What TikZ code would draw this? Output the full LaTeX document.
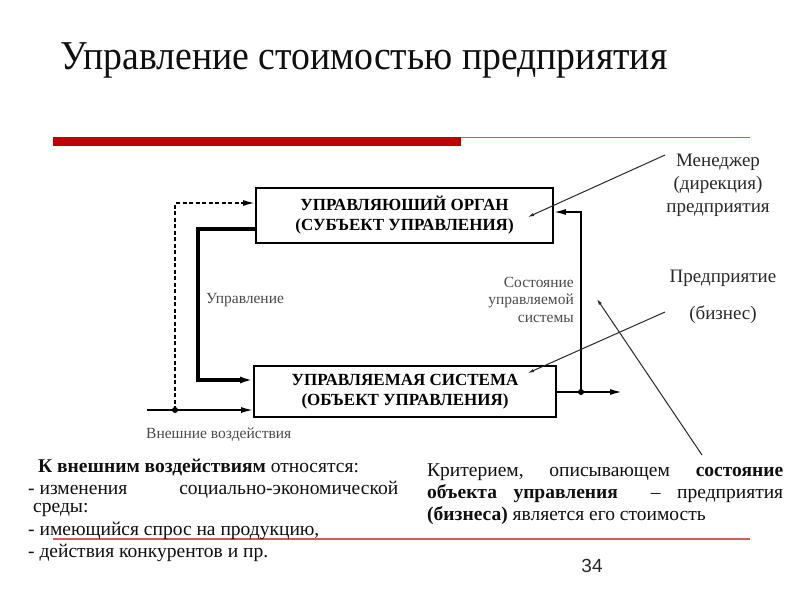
\documentclass[tikz,border=0pt]{standalone}
\usepackage{fontspec}
\setmainfont{Liberation Serif}
\newfontfamily\pagenumfont{Liberation Sans}
\newfontfamily\titlefont[FakeStretch=0.92]{Liberation Serif}
\usetikzlibrary{arrows.meta,calc}
\definecolor{barred}{RGB}{192,0,0}
\definecolor{thinred}{RGB}{205,95,95}
\definecolor{labelgray}{RGB}{75,75,75}
\definecolor{notegray}{RGB}{40,40,40}
\definecolor{textblack}{RGB}{15,15,15}
\begin{document}
\begin{tikzpicture}[x=1pt,y=-1pt,
  box/.style={draw=black,line width=1.7pt,inner sep=0pt,align=center,
    font=\bfseries\fontsize{17}{20}\selectfont},
  lbl/.style={text=labelgray,inner sep=0pt,font=\fontsize{15.5}{17.5}\selectfont},
  note/.style={text=notegray,inner sep=0pt,align=center,font=\fontsize{19}{23}\selectfont},
  body/.style={text=textblack,inner sep=0pt,anchor=base west,font=\fontsize{19.5}{22}\selectfont},
  flow/.style={line width=1.7pt,-{Latex[length=12pt,width=6pt]}},
  thickflow/.style={line width=3.6pt,-{Latex[length=13pt,width=7pt]}},
  dashflow/.style={line width=1.8pt,dash pattern=on 4pt off 2.5pt,-{Latex[length=12pt,width=6pt]}},
  notearrow/.style={draw=notegray,line width=1pt,-{Latex[length=6pt,width=3.5pt]}},
  dotmark/.style={fill=black}
]
\useasboundingbox (0,0) rectangle (800,600);
\fill[white] (0,0) rectangle (800,600);

% title and decorative lines
\node[anchor=base west,inner sep=0pt,text=textblack,font=\titlefont\fontsize{41}{46}\selectfont] (title) at (60,69.3) {Управление стоимостью предприятия};
\fill[barred] (53,136.7) rectangle (461,146);
\coordinate (bar1) at (461,137.4);
\coordinate (bar2) at (750,137.4);
\draw[thinred,line width=1.1pt] (bar1) -- (bar2);
\coordinate (ln1) at (53,539);
\coordinate (ln2) at (750,539);
\draw[thinred,line width=1.1pt] (ln1) -- (ln2);

% boxes
\node[box,minimum width=297pt,minimum height=55pt] (top) at (404.5,215.5) {УПРАВЛЯЮШИЙ ОРГАН\\(СУБЪЕКТ УПРАВЛЕНИЯ)};
\node[box,minimum width=302pt,minimum height=51pt] (bot) at (405,391.5) {УПРАВЛЯЕМАЯ СИСТЕМА\\(ОБЪЕКТ УПРАВЛЕНИЯ)};

% input and dashed branch
\coordinate (in) at (147,410);
\coordinate (dot1) at (175,410);
\coordinate (dtop) at (175,203);
\draw[flow] (in) -- (in -| bot.west);
\draw[dashflow] (dot1) -- (dtop) -- (dtop -| top.west);
\fill[dotmark] (dot1) circle (3pt);

% control loop
\coordinate (c1) at (198,229);
\coordinate (c2) at (198,380);
\draw[thickflow,line join=miter] (c1 -| top.west) -- (c1) -- (c2) -- (c2 -| bot.west);

% output and feedback
\coordinate (out) at (622,392);
\coordinate (dot2) at (581,392);
\coordinate (fb) at (581,212);
\draw[flow] (out -| bot.east) -- (out);
\draw[flow] (dot2) -- (fb) -- (fb -| top.east);
\fill[dotmark] (dot2) circle (3pt);

% diagram labels
\node[lbl,anchor=west] (ctrl) at (206,300) {Управление};
\node[lbl,anchor=east,align=right] (state) at (574,299.5) {Состояние\\управляемой\\системы};
\node[lbl,anchor=west] (ext) at (146,435) {Внешние воздействия};

% annotations
\node[note] (mgr) at (718,185) {Менеджер\\(дирекция)\\предприятия};
\node[note] (ent) at (723,278) {Предприятие};
\node[note] (biz) at (723,315) {(бизнес)};
\coordinate (a1s) at (665,155);
\coordinate (a1e) at (528,217);
\coordinate (a2s) at (665,312);
\coordinate (a2e) at (528,373);
\coordinate (a3s) at (702,455);
\coordinate (a3e) at (597,299);
\draw[notearrow] (a1s) -- (a1e);
\draw[notearrow] (a2s) -- (a2e);
\draw[notearrow] (a3s) -- (a3e);

% bottom left text
\node[body] (l1) at (38,472) {\textbf{К внешним воздействиям} относятся:};
\node[body] (l2) at (28,494) {\hbox to 370pt{- изменения\hfill социально-экономической}};
\node[body] (l3) at (33,512) {среды:};
\node[body] (l4) at (28,535) {- имеющийся спрос на продукцию,};
\node[body] (l5) at (28,557) {- действия конкурентов и пр.};

% bottom right text
\node[body] (r1) at (427,476) {\hbox to 356pt{Критерием,\hfill описывающем\hfill \textbf{состояние}}};
\node[body] (r2) at (427,498) {\hbox to 356pt{\textbf{объекта}\hfill\textbf{управления}\hfill\hfill –\hfill предприятия}};
\node[body] (r3) at (427,520) {\textbf{(бизнеса)} является его стоимость};

% page number
\node[inner sep=0pt,text=notegray,font=\pagenumfont\fontsize{19}{22}\selectfont] (pnum) at (592,566) {34};
\end{tikzpicture}
\end{document}
